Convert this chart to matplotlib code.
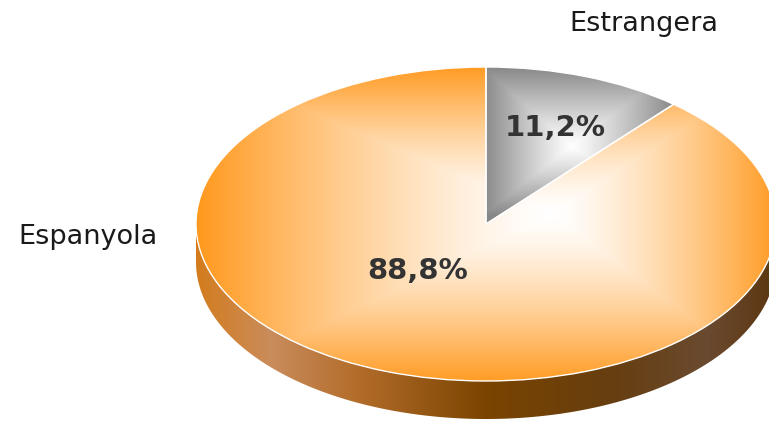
import numpy as np
import matplotlib.pyplot as plt
from matplotlib.patches import Wedge, Polygon
from matplotlib.transforms import Affine2D
from matplotlib.colors import to_rgb

labels = ['Espanyola', 'Estrangera']
values = [88.8, 11.2]
pct_labels = ['88,8%', '11,2%']
edge_colors = ['#ff981c', '#868686']

W, H = 769, 427
cx, cy = 486, 202
rx, ry = 290, 157
depth = 38

fig = plt.figure(figsize=(W / 100, H / 100), dpi=100)
ax = fig.add_axes([0, 0, 1, 1])
ax.set_xlim(0, W)
ax.set_ylim(0, H)
ax.axis('off')

xx, yy = np.meshgrid(np.arange(W) + 0.5, np.arange(H) + 0.5)
ell = Affine2D().scale(rx, ry).translate(cx, cy) + ax.transData


def rect_gradient(c_edge, gx, gy, left, right, down, up, power=1.0):
    dx = xx - gx
    dy = yy - gy
    tx = np.where(dx < 0, -dx / left, dx / right)
    ty = np.where(dy < 0, -dy / down, dy / up)
    t = np.clip(np.maximum(tx, ty), 0, 1) ** power
    e = np.array(to_rgb(c_edge))
    img = (1 - t)[..., None] * np.ones(3) + t[..., None] * e
    return img


# slice angles, counter-clockwise from the top
total = sum(values)
sweep_gray = 360 * values[1] / total
angles = [(90.0, 90.0 + 360 * values[0] / total),
          (90.0 - sweep_gray, 90.0)]

# side wall (front half only)
side_stops = [(0.00, '#d47c1c'), (0.13, '#c98c5c'), (0.28, '#b36c2a'),
              (0.50, '#7a4400'), (0.72, '#663e10'), (0.88, '#6a4a30'),
              (1.00, '#5c3610')]
for (a1, a2), col in zip(angles, edge_colors):
    lo = max(a1, 180)
    hi = min(a2, 360)
    if hi <= lo:
        continue
    th = np.radians(np.linspace(lo, hi, 200))
    top = np.column_stack([cx + rx * np.cos(th), cy + ry * np.sin(th)])
    bot = top[::-1] - [0, depth]
    poly = Polygon(np.vstack([top, bot]), closed=True, facecolor='none',
                   edgecolor='none')
    ax.add_patch(poly)
    f = np.clip((xx - (cx - rx)) / (2 * rx), 0, 1)
    pos = [s[0] for s in side_stops]
    img = np.stack([np.interp(f, pos, [to_rgb(s[1])[k] for s in side_stops])
                    for k in range(3)], axis=-1)
    im = ax.imshow(img, extent=(0, W, 0, H), origin='lower', zorder=1,
                   interpolation='bilinear')
    im.set_clip_path(poly)

# top faces
grads = [
    dict(gx=552, gy=212, left=356, right=230, down=172, up=150, power=1.35),
    dict(gx=572, gy=280, left=90, right=105, down=70, up=80, power=1.1),
]
for (a1, a2), col, g in zip(angles, edge_colors, grads):
    w = Wedge((0, 0), 1, a1, a2, facecolor='none', edgecolor='none',
              transform=ell)
    ax.add_patch(w)
    im = ax.imshow(rect_gradient(col, **g), extent=(0, W, 0, H),
                   origin='lower', zorder=2, interpolation='bilinear')
    im.set_clip_path(w)
    ax.add_patch(Wedge((0, 0), 1, a1, a2, facecolor='none',
                       edgecolor='white', linewidth=1.0, transform=ell,
                       zorder=3))

# labels
ax.text(88, H - 237, labels[0], fontsize=19.5, color='#1a1a1a',
        ha='center', va='center')
ax.text(644, H - 24, labels[1], fontsize=19.5, color='#1a1a1a',
        ha='center', va='center')
ax.text(418, H - 271, pct_labels[0], fontsize=21, fontweight='bold',
        color='#333333', ha='center', va='center', zorder=5)
ax.text(555, H - 128, pct_labels[1], fontsize=21, fontweight='bold',
        color='#333333', ha='center', va='center', zorder=5)

fig.savefig('out.png', dpi=100)
